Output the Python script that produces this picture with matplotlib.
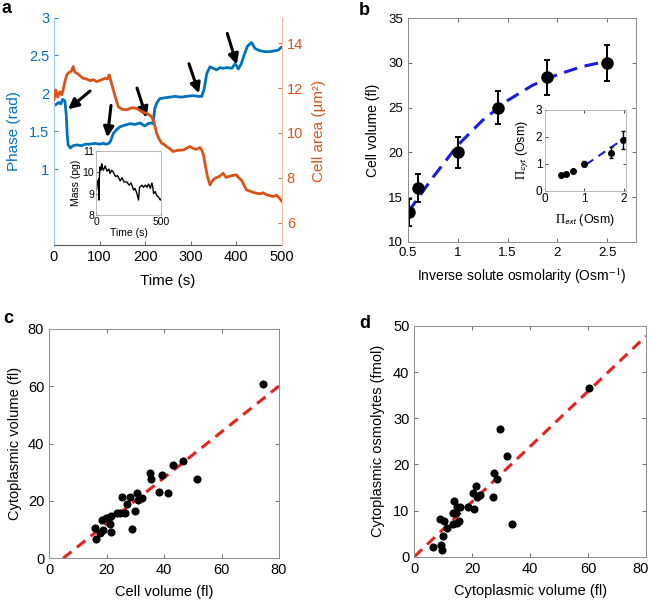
import matplotlib
matplotlib.use('Agg')
import matplotlib.pyplot as plt
import matplotlib.transforms as mtransforms

plt.rcParams['font.family'] = ['Liberation Sans', 'DejaVu Sans']
plt.rcParams['mathtext.fontset'] = 'stix'
plt.rcParams['xtick.direction'] = 'in'
plt.rcParams['ytick.direction'] = 'in'

BLUE = '#0072BD'
ORANGE = '#D95319'
BOXC = '#8c8c8c'

# ---------------- panel a data ----------------
phase_t = [0, 4, 10, 15, 19, 24, 27, 29, 31, 36, 42, 50, 60, 70, 79, 90, 100, 108, 115, 120, 124,
           130, 137, 145, 155, 167, 178, 189, 196, 200, 206, 213, 217, 221, 226, 232, 242, 254, 265,
           278, 291, 305, 315, 324, 329, 335, 342, 349, 357, 364, 371, 380, 390, 397, 401, 404, 410,
           418, 424, 433, 441, 452, 463, 474, 483, 492, 497, 500]
phase_v = [1.84, 1.85, 1.88, 1.86, 1.92, 1.9, 1.7, 1.45, 1.32, 1.28, 1.31, 1.32, 1.31, 1.33, 1.33,
           1.34, 1.33, 1.34, 1.33, 1.34, 1.37, 1.47, 1.52, 1.56, 1.58, 1.6, 1.59, 1.61, 1.58, 1.57,
           1.6, 1.61, 1.6, 1.8, 1.88, 1.93, 1.94, 1.95, 1.96, 1.95, 1.96, 1.97, 1.96, 1.96, 2.05,
           2.26, 2.35, 2.33, 2.31, 2.34, 2.33, 2.34, 2.33, 2.39, 2.36, 2.32, 2.38, 2.52, 2.62, 2.67,
           2.59, 2.56, 2.55, 2.55, 2.56, 2.57, 2.6, 2.61]

area_t = [0, 4, 8, 13, 17, 21, 24, 28, 33, 38, 42, 46, 50, 57, 64, 72, 79, 86, 94, 103, 112, 117,
          121, 125, 130, 136, 141, 150, 159, 170, 181, 192, 203, 209, 214, 219, 225, 230, 236, 241,
          247, 254, 261, 270, 284, 291, 298, 306, 313, 320, 324, 328, 331, 336, 342, 347, 353, 362,
          371, 377, 382, 391, 400, 405, 411, 416, 422, 430, 437, 444, 452, 459, 466, 473, 480, 488,
          494, 497, 500]
area_v = [11.5, 11.92, 11.6, 11.84, 11.7, 12.0, 12.3, 12.59, 12.7, 12.75, 12.96, 12.7, 12.67, 12.55,
          12.44, 12.4, 12.33, 12.38, 12.29, 12.36, 12.44, 12.4, 12.59, 12.3, 11.92, 11.5, 11.17, 11.05,
          11.03, 11.12, 11.1, 10.95, 10.88, 10.8, 10.73, 10.5, 9.99, 9.75, 9.54, 9.5, 9.39, 9.3, 9.17,
          9.22, 9.24, 9.32, 9.39, 9.3, 9.27, 9.35, 9.24, 9.0, 8.65, 8.1, 7.68, 7.85, 7.98, 8.05, 8.2,
          8.02, 8.05, 8.1, 8.13, 8.0, 7.9, 7.7, 7.46, 7.4, 7.35, 7.31, 7.28, 7.33, 7.24, 7.2, 7.16,
          7.22, 7.1, 7.02, 6.95]

arrow_tail_t = [79, 125, 182, 296, 380]
arrow_tail_p = [2.03, 1.84, 2.07, 2.39, 2.79]
arrow_head_t = [31, 117, 203, 318, 401]
arrow_head_p = [1.79, 1.42, 1.68, 2.0, 2.38]

mass_t = [0, 5, 12, 18, 21, 23, 26, 31, 38, 44, 50, 57, 70, 85, 100, 108, 120, 134, 150, 165, 186,
          200, 215, 237, 255, 270, 289, 300, 315, 327, 335, 345, 353, 365, 380, 392, 405, 418, 430,
          437, 443, 455, 469, 480, 495, 500]
mass_v = [9.2, 9.17, 9.6, 9.55, 9.7, 8.7, 9.78, 10.25, 10.1, 10.4, 10.2, 10.1, 10.3, 10.05, 10.15,
          9.95, 10.1, 10.0, 9.8, 9.85, 9.6, 9.75, 9.55, 9.55, 9.4, 9.5, 9.17, 9.25, 9.0, 8.7, 9.3, 9.35,
          9.4, 9.3, 9.4, 9.3, 9.45, 9.25, 9.5, 9.3, 9.0, 9.1, 8.9, 8.85, 8.7, 8.75]

# ---------------- panel b data ----------------
inv_osm = [0.51, 0.6, 1.0, 1.4, 1.9, 2.5]
cell_vol = [13.3, 16.0, 20.0, 25.0, 28.4, 30.0]
cell_vol_err = [1.5, 1.6, 1.7, 1.85, 1.95, 2.0]
fit_x = [0.5, 0.75, 1.0, 1.25, 1.5, 1.75, 2.0, 2.25, 2.5]
fit_y = [13.3, 17.2, 20.8, 23.6, 25.8, 27.5, 28.7, 29.6, 30.2]

pi_ext = [0.4, 0.53, 0.72, 1.0, 1.68, 1.98]
pi_cyt = [0.57, 0.62, 0.72, 1.0, 1.41, 1.88]
pi_cyt_err = [0.05, 0.05, 0.06, 0.1, 0.2, 0.33]
pi_fit_x = [1.05, 1.85]
pi_fit_y = [0.98, 1.78]

# ---------------- panel c data ----------------
c_cell = [74.4, 46.5, 43.2, 51.4, 35.1, 35.4, 39.2, 38.4, 41.5, 30.7, 31.1, 32.2, 25.5, 28.2, 27.0,
          29.9, 26.4, 24.7, 21.5, 20.6, 19.8, 18.3, 21.2, 21.5, 29.0, 16.0, 17.7, 18.7, 16.3, 23.8]
c_cyto = [60.8, 34.0, 32.5, 27.6, 29.9, 27.6, 29.1, 23.2, 22.7, 22.7, 20.3, 20.9, 21.5, 21.5, 18.9,
          16.5, 15.9, 15.7, 14.9, 14.0, 14.2, 13.4, 12.0, 9.3, 10.1, 10.7, 8.7, 9.9, 6.6, 15.7]
c_fit_x = [4.9, 80]
c_fit_y = [0, 60.1]

# ---------------- panel d data ----------------
d_cyto = [60.4, 29.6, 32.1, 27.5, 28.7, 27.3, 33.6, 21.2, 20.2, 22.7, 21.7, 20.6, 18.6, 15.8, 14.6,
          13.8, 13.3, 14.3, 13.3, 14.6, 15.5, 8.9, 10.3, 11.4, 9.8, 6.3, 9.1, 9.5]
d_osmo = [36.6, 27.6, 21.8, 18.2, 16.8, 12.9, 7.1, 15.3, 13.9, 13.4, 13.0, 10.3, 10.7, 10.8, 10.7,
          12.1, 9.5, 9.4, 7.1, 7.2, 7.8, 8.1, 7.8, 6.2, 4.5, 2.2, 2.5, 1.5]
d_fit_x = [0, 80]
d_fit_y = [0, 47.8]

W, H = 652, 603
fig = plt.figure(figsize=(W / 100, H / 100), dpi=100)


def rect(x0, y0, x1, y1):
    return [x0 / W, 1 - y1 / H, (x1 - x0) / W, (y1 - y0) / H]


# ================= panel a =================
ax = fig.add_axes(rect(54, 17.5, 282, 245))
ax.plot(phase_t, phase_v, color=BLUE, lw=2.0)
ax.set_xlim(0, 500)
ax.set_ylim(0, 3)
ax.set_xticks([0, 100, 200, 300, 400, 500])
ax.set_yticks([1, 1.5, 2, 2.5, 3])
ax.set_yticklabels(['1', '1.5', '2', '2.5', '3'])
ax.tick_params(axis='y', colors=BLUE, labelsize=10.5, length=3, width=0.6)
ax.tick_params(axis='x', labelsize=10.5, length=3, width=0.6, color='#555555')
ax.spines['top'].set_visible(False)
ax.spines['right'].set_visible(False)
ax.spines['left'].set_color('#9cc8e8')
ax.spines['bottom'].set_color('#555555')
ax.set_xlabel('Time (s)', fontsize=11, labelpad=7)
ax.set_ylabel('Phase (rad)', fontsize=11, color=BLUE, labelpad=6)
for tt, tp, ht, hp in zip(arrow_tail_t, arrow_tail_p, arrow_head_t, arrow_head_p):
    ax.annotate('', xy=(ht, hp), xytext=(tt, tp),
                arrowprops=dict(arrowstyle='-|>', color='k', lw=2.2, mutation_scale=15,
                                shrinkA=0, shrinkB=0))
ax2 = ax.twinx()
ax2.plot(area_t, area_v, color=ORANGE, lw=2.0)
ax2.set_ylim(5, 15.15)
ax2.set_yticks([6, 8, 10, 12, 14])
ax2.tick_params(axis='y', colors=ORANGE, labelsize=10.5, length=3, width=0.6)
ax2.spines['top'].set_visible(False)
ax2.spines['left'].set_visible(False)
ax2.spines['right'].set_color('#f2bba3')
ax2.spines['bottom'].set_visible(False)
ax2.set_ylabel('Cell area (µm²)', fontsize=11, color=ORANGE, labelpad=6)

axi = fig.add_axes(rect(96, 151, 161, 215))
axi.plot(mass_t, mass_v, color='k', lw=1.0)
axi.set_xlim(0, 500)
axi.set_ylim(8, 11)
axi.set_xticks([0, 500])
axi.set_yticks([8, 9, 10, 11])
axi.tick_params(labelsize=7.5, length=2, width=0.5, pad=1.5)
for s in axi.spines.values():
    s.set_color('#b0b0b0')
    s.set_linewidth(0.6)
axi.set_xlabel('Time (s)', fontsize=7.5, labelpad=1)
axi.set_ylabel('Mass (pg)', fontsize=7.5, labelpad=1)

fig.text(2 / W, 1 - 13 / H, 'a', fontsize=13, fontweight='bold')

# ================= panel b =================
bx = fig.add_axes(rect(408, 18.3, 636, 241.7))
bx.plot(fit_x, fit_y, color='#1a1ae0', lw=2.2, ls=(0, (4.5, 2.5)))
bx.errorbar(inv_osm, cell_vol, yerr=cell_vol_err, fmt='o', color='k', ms=8, lw=1.4,
            capsize=2.5, capthick=1.4)
bx.set_xlim(0.5, 2.79)
bx.set_ylim(10, 35)
bx.set_xticks([0.5, 1, 1.5, 2, 2.5])
bx.set_xticklabels(['0.5', '1', '1.5', '2', '2.5'])
bx.set_yticks([10, 15, 20, 25, 30, 35])
bx.tick_params(labelsize=9.5, length=3, width=0.6, top=True, right=True, color='#555555')
for s in bx.spines.values():
    s.set_color(BOXC)
    s.set_linewidth(0.7)
bx.set_xlabel('Inverse solute osmolarity (Osm$^{-1}$)', fontsize=10, labelpad=6)
bx.set_ylabel('Cell volume (fl)', fontsize=10, labelpad=6)

bxi = fig.add_axes(rect(545, 110, 625.7, 190.7))
bxi.plot(pi_fit_x, pi_fit_y, color='#1a1ae0', lw=1.5, ls=(0, (4, 3)))
bxi.errorbar(pi_ext, pi_cyt, yerr=pi_cyt_err, fmt='o', color='k', ms=4, lw=1.0,
             capsize=1.5, capthick=1.0)
bxi.set_xlim(0, 2.05)
bxi.set_ylim(0, 3)
bxi.set_xticks([0, 1, 2])
bxi.set_yticks([0, 1, 2, 3])
bxi.tick_params(labelsize=8.5, length=2, width=0.5, top=True, right=True, pad=2)
for s in bxi.spines.values():
    s.set_color('#b0b0b0')
    s.set_linewidth(0.6)
bxi.set_xlabel(r'$\Pi_{\mathsf{ext}}$ (Osm)', fontsize=9, labelpad=5)
bxi.set_ylabel(r'$\Pi_{\mathsf{cyt}}$ (Osm)', fontsize=9, labelpad=3)

fig.text(359 / W, 1 - 15 / H, 'b', fontsize=13, fontweight='bold')

# ================= panel c =================
cx = fig.add_axes(rect(49, 329, 279, 558.3))
cx.plot(c_fit_x, c_fit_y, color='#e8201c', lw=2.2, ls=(0, (3.5, 2.3)))
cx.scatter(c_cell, c_cyto, s=34, color='k', zorder=3, linewidths=0)
cx.set_xlim(0, 80)
cx.set_ylim(0, 80)
cx.set_xticks([0, 20, 40, 60, 80])
cx.set_yticks([0, 20, 40, 60, 80])
cx.tick_params(labelsize=10.5, length=3, width=0.6, top=True, right=True, color='#555555')
for s in cx.spines.values():
    s.set_color(BOXC)
    s.set_linewidth(0.7)
cx.set_xlabel('Cell volume (fl)', fontsize=10.5, labelpad=6)
cx.set_ylabel('Cytoplasmic volume (fl)', fontsize=10.5, labelpad=4)
fig.text(3 / W, 1 - 323 / H, 'c', fontsize=13, fontweight='bold')

# ================= panel d =================
dx = fig.add_axes(rect(414.3, 326, 646, 556.7))
dx.plot(d_fit_x, d_fit_y, color='#e8201c', lw=2.2, ls=(0, (3.5, 2.3)))
dx.scatter(d_cyto, d_osmo, s=34, color='k', zorder=3, linewidths=0)
dx.set_xlim(0, 80)
dx.set_ylim(0, 50)
dx.set_xticks([0, 20, 40, 60, 80])
dx.set_yticks([0, 10, 20, 30, 40, 50])
dx.tick_params(labelsize=10.5, length=3, width=0.6, top=True, right=True, color='#555555')
for s in dx.spines.values():
    s.set_color(BOXC)
    s.set_linewidth(0.7)
dx.set_xlabel('Cytoplasmic volume (fl)', fontsize=10.5, labelpad=6)
dx.set_ylabel('Cytoplasmic osmolytes (fmol)', fontsize=10.5, labelpad=6)
fig.canvas.draw()
last = dx.get_xticklabels()[-1]
last.set_transform(last.get_transform() + mtransforms.ScaledTranslation(-5 / 100, 0, fig.dpi_scale_trans))
fig.text(359 / W, 1 - 328 / H, 'd', fontsize=13, fontweight='bold')

fig.savefig('out.png', dpi=100)
